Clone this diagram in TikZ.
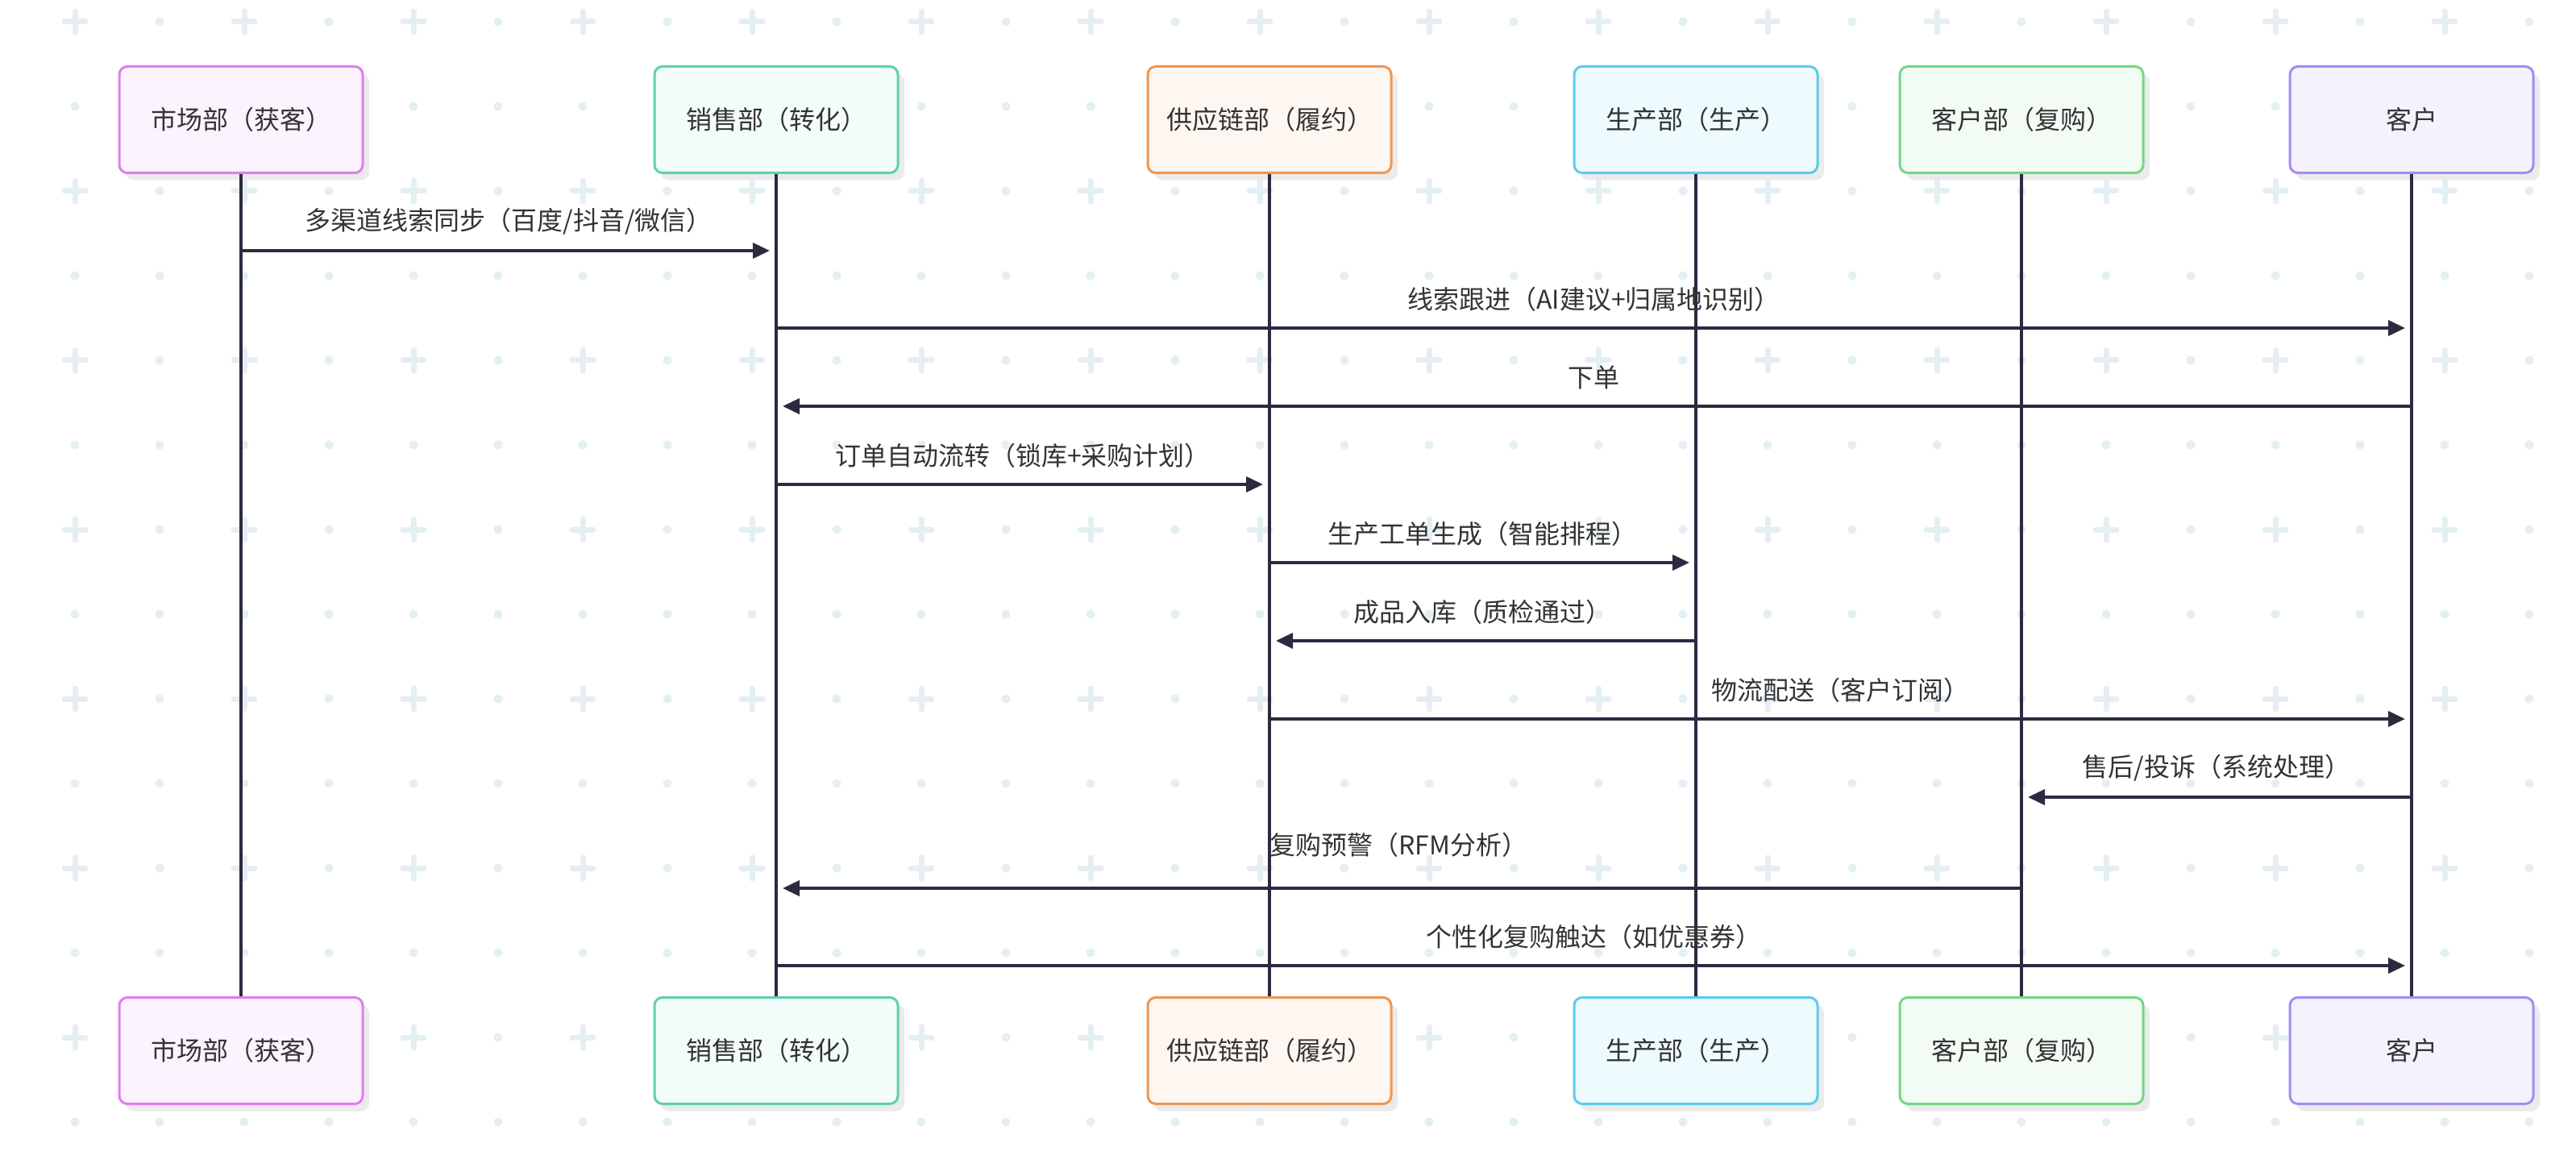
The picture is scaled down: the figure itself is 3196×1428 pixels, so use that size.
\documentclass[tikz,border=0pt]{standalone}
\usepackage{fontspec}
\setmainfont{Noto Sans CJK SC}
\usetikzlibrary{arrows.meta,shadows,calc}
\definecolor{gridc}{HTML}{E3EFF3}
\definecolor{linec}{HTML}{2C2A40}
\definecolor{textc}{HTML}{333333}
\definecolor{shadowc}{HTML}{EBEBEB}
\definecolor{bA}{HTML}{E07DF0}\definecolor{fA}{HTML}{FBF3FD}
\definecolor{bB}{HTML}{5FCFB0}\definecolor{fB}{HTML}{F2FCF9}
\definecolor{bC}{HTML}{F0964F}\definecolor{fC}{HTML}{FEF6F0}
\definecolor{bD}{HTML}{5CCBEA}\definecolor{fD}{HTML}{EEFBFE}
\definecolor{bE}{HTML}{72D885}\definecolor{fE}{HTML}{F2FCF4}
\definecolor{bF}{HTML}{A68AF2}\definecolor{fF}{HTML}{F4F2FD}
\begin{document}
\begin{tikzpicture}[x=0.5pt,y=-0.5pt,
  actor/.style={draw, rounded corners=5pt, line width=1.5pt, minimum width=151pt,
    minimum height=66pt, inner sep=0pt, text=textc, font=\fontsize{16}{19}\selectfont,
    drop shadow={shadow xshift=4pt,shadow yshift=-4.5pt,fill=shadowc,opacity=1}},
  life/.style={draw=linec, line width=1.9pt},
  msg/.style={draw=linec, line width=1.9pt, -{Triangle[length=10.5pt,width=9.5pt]}, shorten >=4pt},
  lbl/.style={text=textc, font=\fontsize{16}{19}\selectfont, inner sep=0pt, midway, yshift=18pt},
  gcross/.style={draw=gridc, line width=3.5pt, line cap=round},
  gdot/.style={fill=gridc}]
\useasboundingbox (0,0) rectangle (3196,1428);
\fill[white] (0,0) rectangle (3196,1428);
% background grid
\foreach \i in {0,...,29}{
  \foreach \j in {0,...,13}{
    \pgfmathsetmacro\xx{93+105*\i}
    \pgfmathsetmacro\yy{27+105*\j}
    \pgfmathtruncatemacro\gpar{mod(\i,2)+mod(\j,2)}
    \ifnum\gpar=0
      \draw[gcross] (\xx-13,\yy) -- (\xx+13,\yy);
      \draw[gcross] (\xx,\yy-13) -- (\xx,\yy+13);
    \else
      \fill[gdot] (\xx,\yy) circle[radius=2.8pt];
    \fi
  }
}
% actors
\node[actor, draw=bA, fill=fA] (t1) at (299,148.5) {市场部（获客）};
\node[actor, draw=bB, fill=fB] (t2) at (963,148.5) {销售部（转化）};
\node[actor, draw=bC, fill=fC] (t3) at (1575,148.5) {供应链部（履约）};
\node[actor, draw=bD, fill=fD] (t4) at (2104,148.5) {生产部（生产）};
\node[actor, draw=bE, fill=fE] (t5) at (2508,148.5) {客户部（复购）};
\node[actor, draw=bF, fill=fF] (t6) at (2992,148.5) {客户};
\node[actor, draw=bA, fill=fA] (b1) at (299,1303.5) {市场部（获客）};
\node[actor, draw=bB, fill=fB] (b2) at (963,1303.5) {销售部（转化）};
\node[actor, draw=bC, fill=fC] (b3) at (1575,1303.5) {供应链部（履约）};
\node[actor, draw=bD, fill=fD] (b4) at (2104,1303.5) {生产部（生产）};
\node[actor, draw=bE, fill=fE] (b5) at (2508,1303.5) {客户部（复购）};
\node[actor, draw=bF, fill=fF] (b6) at (2992,1303.5) {客户};
% lifelines
\foreach \k in {1,...,6}{ \draw[life] (t\k.south) -- (b\k.north); }
% message rows
\coordinate (y1) at (0,311);
\coordinate (y2) at (0,407);
\coordinate (y3) at (0,504);
\coordinate (y4) at (0,601);
\coordinate (y5) at (0,698);
\coordinate (y6) at (0,795);
\coordinate (y7) at (0,892);
\coordinate (y8) at (0,989);
\coordinate (y9) at (0,1102);
\coordinate (y10) at (0,1198);
% messages
\draw[msg] (t1 |- y1) -- node[lbl] {多渠道线索同步（百度/抖音/微信）} (t2 |- y1);
\draw[msg] (t2 |- y2) -- node[lbl] {线索跟进（AI建议+归属地识别）} (t6 |- y2);
\draw[msg] (t6 |- y3) -- node[lbl] {下单} (t2 |- y3);
\draw[msg] (t2 |- y4) -- node[lbl] {订单自动流转（锁库+采购计划）} (t3 |- y4);
\draw[msg] (t3 |- y5) -- node[lbl] {生产工单生成（智能排程）} (t4 |- y5);
\draw[msg] (t4 |- y6) -- node[lbl] {成品入库（质检通过）} (t3 |- y6);
\draw[msg] (t3 |- y7) -- node[lbl] {物流配送（客户订阅）} (t6 |- y7);
\draw[msg] (t6 |- y8) -- node[lbl] {售后/投诉（系统处理）} (t5 |- y8);
\draw[msg] (t5 |- y9) -- node[lbl, yshift=9pt] {复购预警（RFM分析）} (t2 |- y9);
\draw[msg] (t2 |- y10) -- node[lbl] {个性化复购触达（如优惠券）} (t6 |- y10);
\end{tikzpicture}
\end{document}
